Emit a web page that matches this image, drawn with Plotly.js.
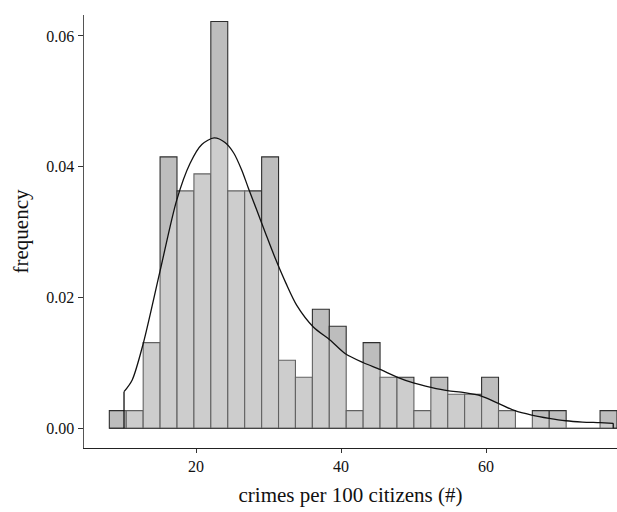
<!DOCTYPE html>
<html>
<head>
<meta charset="utf-8">
<script src="https://cdn.plot.ly/plotly-3.0.1.min.js"></script>
<style>html,body{margin:0;padding:0;background:#fff;}#chart{width:617px;height:512px;}</style>
</head>
<body>
<div id="chart"></div>
<script>
// histogram bins (centers) and density heights
var binCenters = [9.21, 11.54, 13.88, 16.21, 18.55, 20.88, 23.21, 25.55, 27.88, 30.22,
                  32.55, 34.88, 37.22, 39.55, 41.89, 44.22, 46.55, 48.89, 51.22, 53.56,
                  55.89, 58.22, 60.56, 62.89, 65.23, 67.56, 69.89, 72.23, 74.56, 76.90];
var binHeights = [0.0027, 0.0027, 0.0131, 0.0415, 0.0363, 0.0389, 0.0622, 0.0363, 0.0363, 0.0415,
                  0.0104, 0.0078, 0.0182, 0.0156, 0.0027, 0.0131, 0.0078, 0.0078, 0.0027, 0.0078,
                  0.0052, 0.0052, 0.0078, 0.0027, 0, 0.0027, 0.0027, 0, 0, 0.0027];
var binWidth = 2.334;

// kernel density curve
var densX = [10.07, 11.2, 12.73, 15.03, 17.34, 19.17, 20.8, 22.5, 24.0, 25.2, 26.3, 27.2, 28.4, 29.6,
             31.0, 32.4, 33.9, 36.18, 38.48, 40.6, 43.1, 45.4, 47.8, 50.1, 52.4, 54.7, 57.0, 59.35,
             61.7, 64.0, 66.3, 68.7, 71.0, 73.3, 75.7, 77.55];
var densY = [0.0056, 0.0074, 0.0130, 0.0240, 0.0349, 0.0405, 0.0434, 0.0444, 0.0437, 0.0421, 0.0395, 0.0368, 0.0333, 0.0298,
             0.0258, 0.0222, 0.0188, 0.0155, 0.0135, 0.0114, 0.01003, 0.0090, 0.0078, 0.0069, 0.00627, 0.00575, 0.00545, 0.00494,
             0.00382, 0.00269, 0.00203, 0.00153, 0.00116, 0.00096, 0.00086, 0.00076];

var xTicks = [20, 40, 60];
var yTicks = [0, 0.02, 0.04, 0.06];

var serif = 'Liberation Serif, Times New Roman, serif';
var nD = densX.length;

var traces = [
  {
    type: 'bar', x: binCenters, y: binHeights, width: binWidth,
    marker: {color: '#bdbdbd', line: {color: '#2e2e2e', width: 1.1}},
    hoverinfo: 'skip', showlegend: false
  },
  {
    type: 'scatter', mode: 'lines',
    x: [binCenters[0] - binWidth / 2, binCenters[binCenters.length - 1] + binWidth / 2],
    y: [0, 0], line: {color: '#2e2e2e', width: 1.1}, hoverinfo: 'skip', showlegend: false
  },
  {
    type: 'scatter', mode: 'lines', x: densX, y: densY,
    line: {color: '#111', width: 1.3, shape: 'spline', smoothing: 0.8},
    fill: 'tozeroy', fillcolor: 'rgba(255,255,255,0.25)',
    hoverinfo: 'skip', showlegend: false
  },
  {
    type: 'scatter', mode: 'lines', x: [densX[0], densX[0]], y: [0, densY[0]],
    line: {color: '#111', width: 1.3}, hoverinfo: 'skip', showlegend: false
  },
  {
    type: 'scatter', mode: 'lines', x: [densX[nD - 1], densX[nD - 1]], y: [0, densY[nD - 1]],
    line: {color: '#111', width: 1.3}, hoverinfo: 'skip', showlegend: false
  }
];

var layout = {
  width: 617, height: 512,
  margin: {l: 84, r: 0, t: 15, b: 64, pad: 0},
  paper_bgcolor: '#fff', plot_bgcolor: '#fff',
  bargap: 0, barmode: 'overlay',
  font: {family: serif, color: '#111'},
  xaxis: {
    range: [4.55, 78.07], tickvals: xTicks, ticktext: xTicks.map(String),
    ticks: 'outside', ticklen: 4, tickcolor: '#333', tickwidth: 1,
    showline: true, linecolor: '#222', linewidth: 1.2,
    showgrid: false, zeroline: false,
    tickfont: {family: serif, size: 16, color: '#111'},
    title: {text: 'crimes per 100 citizens (#)', font: {family: serif, size: 21, color: '#111'}, standoff: 12}
  },
  yaxis: {
    range: [-0.00301, 0.0632], tickvals: yTicks, ticktext: yTicks.map(function (v) { return v.toFixed(2); }),
    ticks: 'outside', ticklen: 5, tickcolor: '#333', tickwidth: 1,
    showline: true, linecolor: '#555', linewidth: 1.5,
    showgrid: false, zeroline: false,
    tickfont: {family: serif, size: 16, color: '#111'},
    title: {text: 'frequency', font: {family: serif, size: 21, color: '#111'}, standoff: 12}
  }
};

Plotly.newPlot('chart', traces, layout, {staticPlot: true, displayModeBar: false});
</script>
</body>
</html>
